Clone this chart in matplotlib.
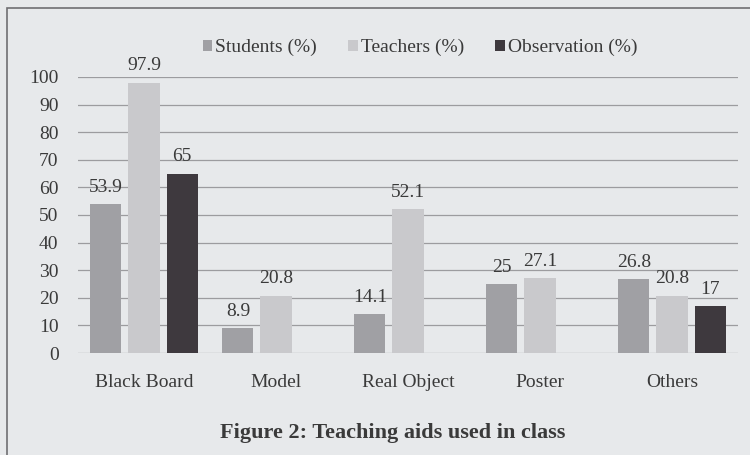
import numpy as np
import matplotlib
matplotlib.use("Agg")
import matplotlib.pyplot as plt
from matplotlib.patches import Rectangle

# Data
categories = ["Black Board", "Model", "Real Object", "Poster", "Others"]
students = [53.9, 8.9, 14.1, 25, 26.8]
teachers = [97.9, 20.8, 52.1, 27.1, 20.8]
observation = [65, 0, 0, 0, 17]
series_names = ["Students (%)", "Teachers (%)", "Observation (%)"]

bg = "#e7e9eb"
colors = ["#a0a0a4", "#c9c9cc", "#3e393e"]

plt.rcParams["font.family"] = ["Liberation Serif", "DejaVu Serif"]

fig = plt.figure(figsize=(7.5, 4.55), dpi=100, facecolor=bg)
ax = fig.add_axes([0.104, 0.224, 0.88, 0.607])
ax.set_facecolor(bg)

x = np.arange(len(categories))
w = 0.235
off = 0.288
for i, (vals, name) in enumerate(zip([students, teachers, observation], series_names)):
    pos = x + (i - 1) * off
    ax.bar(pos, vals, width=w, color=colors[i], label=name, zorder=3)
    for p, v in zip(pos, vals):
        if v > 0:
            ax.text(p, v + 3, f"{v:g}", ha="center", va="bottom", fontsize=14,
                    color="#3a3a3a", zorder=4)

ax.set_xlim(-0.5, len(categories) - 0.5)
ax.set_ylim(0, 100)
ax.set_yticks(range(0, 101, 10))
ax.set_xticks(x)
ax.set_xticklabels(categories)
ax.yaxis.grid(True, color="#9c9c9f", linewidth=0.9)
ax.set_axisbelow(True)
for s in ax.spines.values():
    s.set_visible(False)
ax.tick_params(axis="both", length=0, labelsize=14, colors="#3a3a3a")
ax.tick_params(axis="x", pad=15)
ax.tick_params(axis="y", pad=14)

ax.legend(loc="upper center", bbox_to_anchor=(0.518, 1.2), ncol=3, frameon=False,
          fontsize=14, handlelength=0.5, handleheight=0.5, handletextpad=0.15,
          columnspacing=1.6, labelcolor="#3a3a3a")

fig.text(0.523, 0.048, "Figure 2: Teaching aids used in class", ha="center",
         va="center", fontsize=16, fontweight="bold", color="#3a3a3a")

# outer frame of the scanned figure
fig.patches.append(Rectangle((0.009, -0.1), 1.2, 1.082, transform=fig.transFigure,
                             fill=False, edgecolor="#6f6f72", linewidth=1.2))

fig.savefig("out.png", dpi=100, facecolor=bg)
